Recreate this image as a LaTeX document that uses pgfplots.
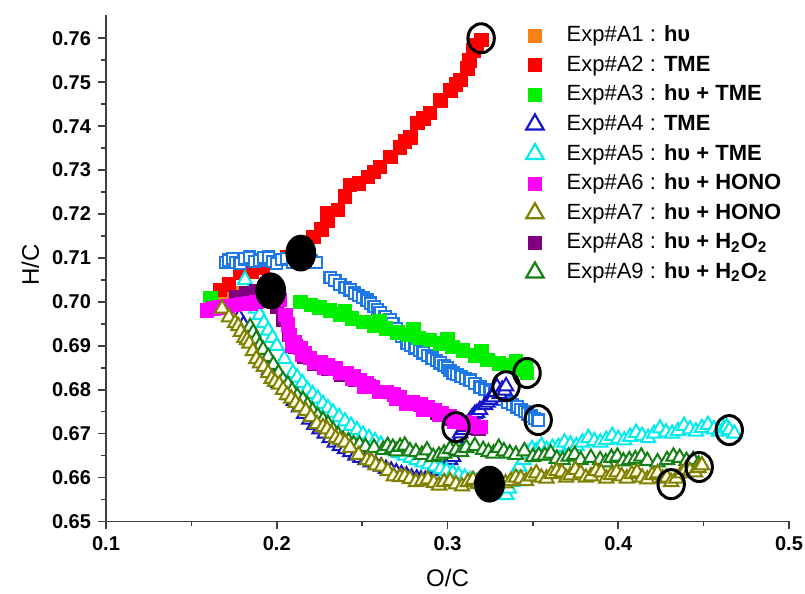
\documentclass[border=0pt]{standalone}
\usepackage{fontspec}
\setmainfont{Liberation Sans}
\usepackage{pgfplots}
\pgfplotsset{compat=1.18}
\definecolor{cA1}{RGB}{250,130,20}
\definecolor{cA2}{RGB}{255,0,0}
\definecolor{cA3}{RGB}{0,240,0}
\definecolor{cA4}{RGB}{20,20,200}
\definecolor{cA5}{RGB}{0,235,235}
\definecolor{cA6}{RGB}{255,0,255}
\definecolor{cA7}{RGB}{128,128,0}
\definecolor{cA8}{RGB}{128,0,128}
\definecolor{cA9}{RGB}{20,128,20}
\definecolor{cB}{RGB}{30,120,230}
\begin{document}
\begin{tikzpicture}
\useasboundingbox (0,0) rectangle (402.5pt,297pt);
\begin{axis}[
  at={(53pt,36.25pt)}, anchor=south west,
  scale only axis, width=341.5pt, height=253.25pt,
  xmin=0.1, xmax=0.5, ymin=0.65, ymax=0.7653,
  axis x line*=bottom, axis y line*=left,
  axis line style={-, black!75, line width=0.8pt},
  xtick={0.1,0.2,0.3,0.4,0.5}, minor xtick={0.15,0.25,0.35,0.45},
  ytick={0.65,0.66,0.67,0.68,0.69,0.70,0.71,0.72,0.73,0.74,0.75,0.76},
  minor ytick={0.655,0.665,0.675,0.685,0.695,0.705,0.715,0.725,0.735,0.745,0.755},
  scaled ticks=false,
  tick align=outside, major tick length=4pt, minor tick length=2.5pt,
  every tick/.style={black!75, line width=0.8pt},
  xticklabel style={/pgf/number format/.cd, fixed, precision=1, assume math mode=true},
  yticklabel style={/pgf/number format/.cd, fixed, fixed zerofill, precision=2, assume math mode=true},
  ticklabel style={font=\fontsize{10}{12}\selectfont\bfseries},
  xlabel={O/C}, ylabel={H/C},
  label style={font=\fontsize{12}{14}\selectfont},
  xlabel style={at={(axis description cs:0.5,-0.112)}, anchor=center},
  ylabel style={at={(axis description cs:-0.111,0.506)}, anchor=center},
  legend cell align=left,
  legend style={draw=none, fill=none, at={(axis description cs:0.606,0.994)}, anchor=north west,
    font=\fontsize{11}{13}\selectfont, row sep=1.6pt,
    nodes={inner sep=1pt, text height=8.6pt, text depth=2.6pt},
    /tikz/every odd column/.append style={column sep=10.5pt}},
]
% legend images
\addlegendimage{only marks, mark=square*, mark size=3.3pt, color=cA1}
\addlegendentry{Exp\#A1 : \textbf{hυ}}
\addlegendimage{only marks, mark=square*, mark size=3.3pt, color=cA2}
\addlegendentry{Exp\#A2 : \textbf{TME}}
\addlegendimage{only marks, mark=square*, mark size=3.3pt, color=cA3}
\addlegendentry{Exp\#A3 : \textbf{hυ + TME}}
\addlegendimage{only marks, mark=triangle*, mark size=5pt, mark options={draw=cA4, fill=white, line width=1.1pt}}
\addlegendentry{Exp\#A4 : \textbf{TME}}
\addlegendimage{only marks, mark=triangle*, mark size=5pt, mark options={draw=cA5, fill=white, line width=1.1pt}}
\addlegendentry{Exp\#A5 : \textbf{hυ + TME}}
\addlegendimage{only marks, mark=square*, mark size=3.3pt, color=cA6}
\addlegendentry{Exp\#A6 : \textbf{hυ + HONO}}
\addlegendimage{only marks, mark=triangle*, mark size=5pt, mark options={draw=cA7, fill=white, line width=1.1pt}}
\addlegendentry{Exp\#A7 : \textbf{hυ + HONO}}
\addlegendimage{only marks, mark=square*, mark size=3.3pt, color=cA8}
\addlegendentry{Exp\#A8 : \textbf{hυ + H\textsubscript{2}O\textsubscript{2}}}
\addlegendimage{only marks, mark=triangle*, mark size=5pt, mark options={draw=cA9, fill=white, line width=1.1pt}}
\addlegendentry{Exp\#A9 : \textbf{hυ + H\textsubscript{2}O\textsubscript{2}}}

% A1 (hidden)
\addplot[forget plot, only marks, mark=square*, mark size=3.3pt, color=cA1] coordinates {
(0.165,0.700) (0.170,0.701) (0.175,0.702)};
% A2
\addplot[forget plot, only marks, mark=square*, mark size=3.4pt, color=cA2] coordinates {
(0.1668,0.7027) (0.1720,0.7040) (0.1785,0.7066) (0.1850,0.7070) (0.1920,0.7077)
(0.1990,0.7090) (0.2060,0.7102) (0.2137,0.7122) (0.2213,0.7148) (0.2260,0.7165)
(0.2295,0.7186) (0.2295,0.7202) (0.2359,0.7209) (0.2400,0.7240) (0.2429,0.7266)
(0.2480,0.7270) (0.2535,0.7284) (0.2570,0.7296) (0.2605,0.7307) (0.2664,0.7330)
(0.2722,0.7352) (0.2750,0.7365) (0.2781,0.7375) (0.2822,0.7407) (0.2860,0.7418)
(0.2898,0.7430) (0.2957,0.7459) (0.3016,0.7482) (0.3050,0.7495) (0.3074,0.7505)
(0.3115,0.7532) (0.3130,0.7550) (0.3150,0.7573) (0.3170,0.7585) (0.3197,0.7596)};
% hollow blue squares
\addplot[forget plot, only marks, mark=square*, mark size=2.8pt, mark options={draw=cB, fill=white, line width=1.1pt}] coordinates {
(0.1700,0.7090) (0.1720,0.7095) (0.1740,0.7098) (0.1760,0.7090) (0.1785,0.7088)
(0.1810,0.7098) (0.1840,0.7102) (0.1870,0.7092) (0.1900,0.7095) (0.1925,0.7100)
(0.1950,0.7102) (0.1975,0.7092) (0.2000,0.7088) (0.2030,0.7096) (0.2060,0.7098)
(0.2095,0.7090) (0.2130,0.7096) (0.2155,0.7100) (0.2180,0.7102) (0.2205,0.7094)
(0.2230,0.7090) (0.2312,0.7056) (0.2340,0.7048) (0.2370,0.7040) (0.2400,0.7033)
(0.2429,0.7027) (0.2455,0.7020) (0.2480,0.7015) (0.2505,0.7010) (0.2529,0.7004)
(0.2550,0.6997) (0.2570,0.6990) (0.2590,0.6982) (0.2605,0.6975) (0.2635,0.6967)
(0.2664,0.6959) (0.2680,0.6950) (0.2700,0.6940) (0.2730,0.6922) (0.2763,0.6906)
(0.2785,0.6900) (0.2810,0.6895) (0.2835,0.6890) (0.2857,0.6884) (0.2885,0.6878)
(0.2910,0.6872) (0.2935,0.6866) (0.2957,0.6861) (0.2980,0.6855) (0.3000,0.6850)
(0.3015,0.6844) (0.3033,0.6838) (0.3055,0.6834) (0.3080,0.6830) (0.3105,0.6826)
(0.3132,0.6822) (0.3160,0.6814) (0.3191,0.6806) (0.3220,0.6800) (0.3250,0.6795)
(0.3275,0.6790) (0.3300,0.6785) (0.3325,0.6778) (0.3350,0.6772) (0.3380,0.6766)
(0.3408,0.6761) (0.3430,0.6755) (0.3450,0.6750) (0.3470,0.6745) (0.3490,0.6740)
(0.3510,0.6735) (0.3531,0.6731)};
% A3
\addplot[forget plot, only marks, mark=square*, mark size=3.4pt, color=cA3] coordinates {
(0.1610,0.7009) (0.2137,0.7000) (0.2200,0.6993) (0.2250,0.6988) (0.2312,0.6981)
(0.2370,0.6972) (0.2400,0.6978) (0.2440,0.6963) (0.2506,0.6954) (0.2570,0.6947)
(0.2600,0.6957) (0.2640,0.6940) (0.2705,0.6931) (0.2770,0.6925) (0.2800,0.6937)
(0.2830,0.6918) (0.2898,0.6913) (0.2960,0.6905) (0.3000,0.6915) (0.3030,0.6897)
(0.3091,0.6890) (0.3160,0.6878) (0.3200,0.6888) (0.3232,0.6868) (0.3300,0.6860)
(0.3367,0.6856) (0.3400,0.6866) (0.3420,0.6846) (0.3466,0.6838) (0.3460,0.6855)};
% A4
\addplot[forget plot, only marks, mark=triangle*, mark size=4.1pt, mark options={draw=cA4, fill=white, line width=1pt}] coordinates {
(0.178,0.6965) (0.1805,0.6948) (0.183,0.6930) (0.1855,0.6912) (0.188,0.6895)
(0.1905,0.6878) (0.193,0.6860) (0.1955,0.6845) (0.198,0.6830) (0.201,0.6815)
(0.204,0.6800) (0.207,0.6788) (0.210,0.6775) (0.213,0.6760) (0.216,0.6745)
(0.219,0.6732) (0.222,0.6720) (0.225,0.6710) (0.228,0.6700) (0.231,0.6690)
(0.234,0.6680) (0.237,0.6672) (0.240,0.6665) (0.243,0.6658) (0.246,0.6650)
(0.249,0.6645) (0.252,0.6640) (0.255,0.6635) (0.258,0.6630) (0.261,0.6625)
(0.264,0.6620) (0.267,0.6616) (0.270,0.6612) (0.273,0.6608) (0.276,0.6605)
(0.279,0.6600) (0.282,0.6598) (0.2845,0.6596) (0.287,0.6595) (0.2895,0.6597)
(0.292,0.6600) (0.2945,0.6607) (0.297,0.6615) (0.300,0.6630) (0.3015,0.6640)
(0.3033,0.6647) (0.3055,0.6660) (0.3040,0.6669) (0.3055,0.6680) (0.3074,0.6690)
(0.3074,0.6701) (0.309,0.6708) (0.3100,0.6715) (0.3115,0.6722) (0.3132,0.6731)
(0.3145,0.6738) (0.3160,0.6745) (0.3173,0.6747) (0.3190,0.6754) (0.3220,0.6765)
(0.3235,0.6771) (0.3250,0.6777) (0.3267,0.6783) (0.3280,0.6795) (0.3290,0.6806)
(0.3305,0.6790) (0.3320,0.6800) (0.3335,0.6798) (0.3343,0.6808)};
% A5
\addplot[forget plot, only marks, mark=triangle*, mark size=4.1pt, mark options={draw=cA5, fill=white, line width=1pt}] coordinates {
(0.1814,0.7050) (0.1835,0.7020) (0.186,0.7000) (0.188,0.6985) (0.190,0.6970)
(0.1925,0.6952) (0.195,0.6935) (0.1975,0.6918) (0.200,0.6900) (0.2045,0.6870)
(0.2095,0.6838) (0.212,0.6828) (0.215,0.6815) (0.218,0.6800) (0.221,0.6790)
(0.224,0.6780) (0.227,0.6768) (0.230,0.6758) (0.233,0.6748) (0.2365,0.6738)
(0.240,0.6728) (0.2435,0.6718) (0.247,0.6708) (0.2505,0.6698) (0.254,0.6690)
(0.2575,0.6683) (0.261,0.6675) (0.2645,0.6668) (0.268,0.6662) (0.2715,0.6656)
(0.275,0.6650) (0.2785,0.6645) (0.282,0.6640) (0.2855,0.6635) (0.289,0.6630)
(0.2925,0.6625) (0.296,0.6620) (0.2995,0.6615) (0.303,0.6610) (0.3065,0.6605)
(0.310,0.6600) (0.3135,0.6595) (0.317,0.6590) (0.3205,0.6584) (0.324,0.6578)
(0.327,0.6573) (0.330,0.6568) (0.3345,0.6560) (0.336,0.6575) (0.338,0.6590)
(0.340,0.6610) (0.342,0.6625) (0.3445,0.6640) (0.347,0.6655) (0.3495,0.6665)
(0.352,0.6660) (0.355,0.6672) (0.358,0.6663) (0.3615,0.6668) (0.365,0.6670)
(0.3685,0.6680) (0.372,0.6675) (0.3755,0.6672) (0.379,0.6680) (0.3825,0.6690)
(0.386,0.6683) (0.3895,0.6680) (0.393,0.6686) (0.3965,0.6695) (0.400,0.6688)
(0.4035,0.6685) (0.407,0.6693) (0.4105,0.6702) (0.414,0.6695) (0.4175,0.6690)
(0.421,0.6700) (0.4245,0.6712) (0.428,0.6703) (0.4315,0.6700) (0.435,0.6706)
(0.4385,0.6718) (0.442,0.6710) (0.4455,0.6705) (0.449,0.6713) (0.4525,0.6720)
(0.456,0.6710) (0.459,0.6705) (0.462,0.6712) (0.4635,0.6715) (0.465,0.6708)
(0.468,0.6700)};
% A9
\addplot[forget plot, only marks, mark=triangle*, mark size=4.1pt, mark options={draw=cA9, fill=white, line width=1pt}] coordinates {
(0.1844,0.6943) (0.1862,0.6930) (0.188,0.6915) (0.190,0.6900) (0.192,0.6891)
(0.195,0.6875) (0.198,0.6857) (0.201,0.6838) (0.2037,0.6822) (0.2065,0.6812)
(0.209,0.6798) (0.212,0.6785) (0.2154,0.6777) (0.218,0.6765) (0.221,0.6752)
(0.224,0.6740) (0.2271,0.6731) (0.230,0.6722) (0.233,0.6708) (0.236,0.6697)
(0.2388,0.6686) (0.242,0.6683) (0.245,0.6676) (0.2485,0.6675) (0.252,0.6670)
(0.257,0.6668) (0.2623,0.6663) (0.265,0.6672) (0.268,0.6668) (0.270,0.6660)
(0.2722,0.6670) (0.275,0.6673) (0.278,0.6660) (0.2815,0.6658) (0.285,0.6652)
(0.288,0.6662) (0.2916,0.6647) (0.295,0.6650) (0.298,0.6655) (0.3015,0.6665)
(0.305,0.6662) (0.308,0.6658) (0.311,0.6668) (0.316,0.6672) (0.3209,0.6663)
(0.324,0.6658) (0.327,0.6655) (0.330,0.6668) (0.333,0.6660) (0.3365,0.6655)
(0.340,0.6652) (0.345,0.6660) (0.350,0.6647) (0.3535,0.6650) (0.357,0.6650)
(0.3605,0.6655) (0.364,0.6643) (0.3675,0.6640) (0.371,0.6648) (0.3745,0.6652)
(0.378,0.6640) (0.384,0.6645) (0.3894,0.6640) (0.3927,0.6635) (0.396,0.6645)
(0.3995,0.6648) (0.403,0.6637) (0.4065,0.6640) (0.410,0.6642) (0.4135,0.6648)
(0.417,0.6638) (0.423,0.6635) (0.4286,0.6640) (0.4323,0.6648) (0.436,0.6645)
(0.440,0.6638) (0.4439,0.6640) (0.447,0.6630)};
% A8
\addplot[forget plot, only marks, mark=square*, mark size=3.4pt, color=cA8] coordinates {
(0.176,0.7010) (0.182,0.7020) (0.188,0.7025) (0.194,0.7010) (0.200,0.6990)
(0.204,0.6960) (0.207,0.6925) (0.211,0.6898) (0.216,0.6875) (0.222,0.6860)
(0.230,0.6848) (0.238,0.6835) (0.246,0.6822) (0.254,0.6807) (0.262,0.6795)
(0.270,0.6782) (0.278,0.6770) (0.286,0.6758) (0.294,0.6747) (0.302,0.6735)
(0.310,0.6722) (0.318,0.6712)};
% A6
\addplot[forget plot, only marks, mark=square*, mark size=3.4pt, color=cA6] coordinates {
(0.1592,0.6981) (0.1630,0.6985) (0.1668,0.6988) (0.1710,0.6990) (0.1756,0.6993)
(0.1800,0.6995) (0.1844,0.6997) (0.1880,0.7000) (0.1914,0.7004) (0.1967,0.7022)
(0.2019,0.7004) (0.2049,0.6970) (0.2065,0.6948) (0.2078,0.6925) (0.2090,0.6900)
(0.2105,0.6908) (0.2137,0.6895) (0.2150,0.6880) (0.2165,0.6882) (0.2195,0.6872)
(0.2220,0.6862) (0.2254,0.6863) (0.2280,0.6850) (0.2300,0.6856) (0.2342,0.6849)
(0.2370,0.6838) (0.2412,0.6838) (0.2440,0.6825) (0.2450,0.6830) (0.2488,0.6822)
(0.2510,0.6808) (0.2525,0.6814) (0.2564,0.6806) (0.2600,0.6795) (0.2646,0.6795)
(0.2685,0.6789) (0.2700,0.6780) (0.2722,0.6783) (0.2760,0.6768) (0.2798,0.6772)
(0.2840,0.6767) (0.2860,0.6755) (0.2881,0.6761) (0.2925,0.6754) (0.2950,0.6743)
(0.2968,0.6747) (0.3010,0.6740) (0.3040,0.6728) (0.3056,0.6731) (0.3100,0.6726)
(0.3132,0.6724) (0.3150,0.6718) (0.3191,0.6715)};
% A7
\addplot[forget plot, only marks, mark=triangle*, mark size=4.1pt, mark options={draw=cA7, fill={rgb,255:red,255;green,255;blue,232}, line width=1pt}] coordinates {
(0.168,0.6985) (0.172,0.6965) (0.1756,0.6952) (0.1775,0.6945) (0.179,0.6932)
(0.181,0.6918) (0.1826,0.6913) (0.184,0.6905) (0.186,0.6888) (0.188,0.6870)
(0.1902,0.6860) (0.1925,0.6852) (0.195,0.6838) (0.197,0.6825) (0.199,0.6818)
(0.2015,0.6812) (0.2037,0.6800) (0.206,0.6788) (0.2085,0.6780) (0.211,0.6770)
(0.2137,0.6761) (0.217,0.6752) (0.220,0.6738) (0.2235,0.6722) (0.2271,0.6715)
(0.2295,0.6710) (0.232,0.6700) (0.2345,0.6690) (0.2371,0.6686) (0.240,0.6680)
(0.243,0.6668) (0.248,0.6652) (0.2529,0.6640) (0.2555,0.6637) (0.258,0.6628)
(0.2615,0.6625) (0.265,0.6615) (0.2685,0.6603) (0.2722,0.6601) (0.275,0.6602)
(0.278,0.6597) (0.2815,0.6590) (0.285,0.6592) (0.2885,0.6596) (0.292,0.6588)
(0.295,0.6582) (0.298,0.6590) (0.3015,0.6592) (0.305,0.6585) (0.3085,0.6580)
(0.312,0.6590) (0.315,0.6595) (0.318,0.6586) (0.3215,0.6583) (0.325,0.6588)
(0.328,0.6598) (0.331,0.6593) (0.334,0.6587) (0.337,0.6592) (0.340,0.6600)
(0.343,0.6598) (0.346,0.6592) (0.349,0.6603) (0.352,0.6610) (0.355,0.6600)
(0.358,0.6598) (0.361,0.6608) (0.364,0.6615) (0.367,0.6612) (0.3695,0.6600)
(0.372,0.6605) (0.375,0.6618) (0.378,0.6610) (0.381,0.6600) (0.384,0.6603)
(0.387,0.6615) (0.390,0.6612) (0.393,0.6598) (0.396,0.6606) (0.399,0.6612)
(0.402,0.6603) (0.405,0.6598) (0.408,0.6608) (0.411,0.6612) (0.414,0.6600)
(0.417,0.6596) (0.420,0.6606) (0.423,0.6610) (0.426,0.6598) (0.4285,0.6600)
(0.431,0.6590) (0.434,0.6598) (0.437,0.6610) (0.4395,0.6618) (0.442,0.6615)
(0.445,0.6612) (0.447,0.6622) (0.449,0.6628)};
% filled black dots
\addplot[forget plot, only marks, mark=*, mark size=7.5pt, black, mark options={yscale=1.2}] coordinates {
(0.2141,0.7111) (0.1965,0.7025) (0.3246,0.6585)};
% open circles
\addplot[forget plot, only marks, mark=o, mark size=6.6pt, black, mark options={line width=1.5pt, yscale=1.1}] coordinates {
(0.3197,0.7600) (0.3343,0.6808) (0.3466,0.6838) (0.3531,0.6731) (0.3050,0.6715)
(0.4650,0.6708) (0.4474,0.6624) (0.4310,0.6585)};
\end{axis}
\end{tikzpicture}
\end{document}
